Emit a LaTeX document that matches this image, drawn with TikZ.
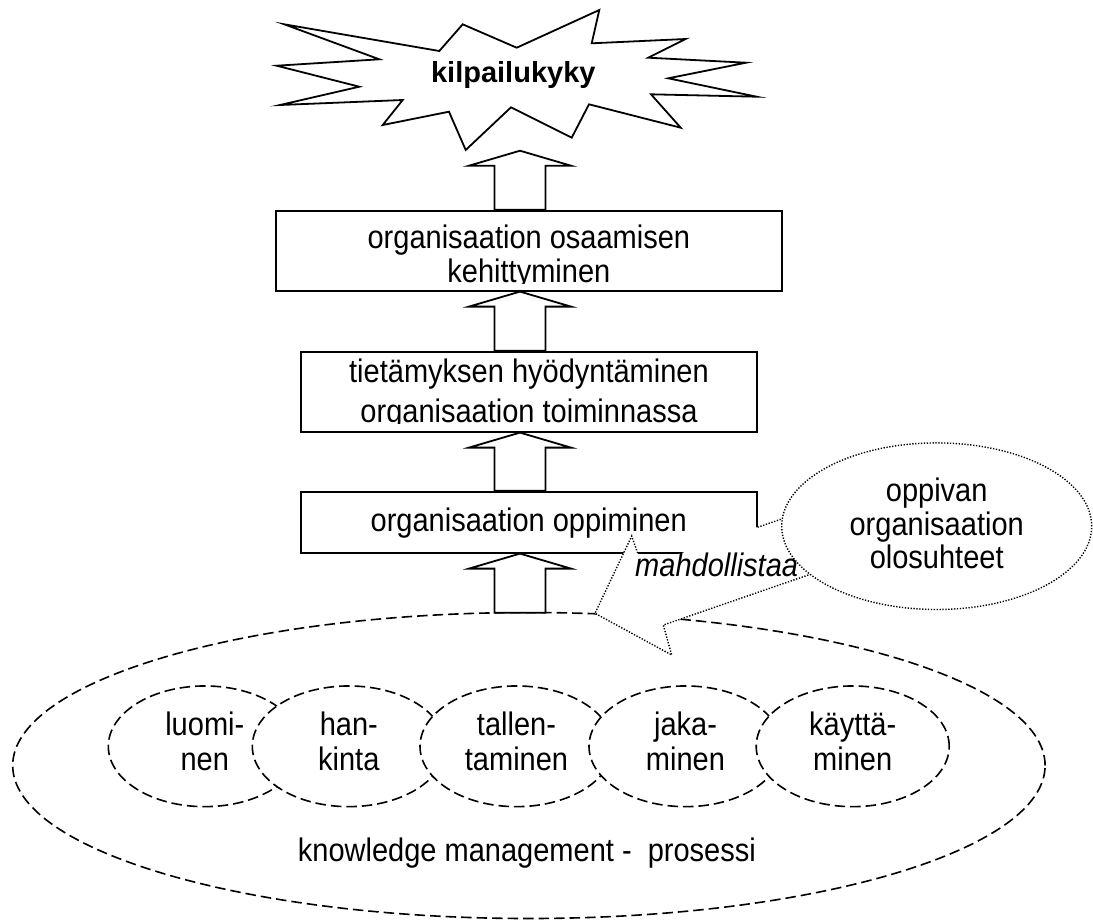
\documentclass[tikz,border=0pt]{standalone}
\usepackage{fontspec}
\setmainfont{Liberation Sans}
\newfontfamily\tallsans{Liberation Sans}[FakeStretch=0.89]
\usetikzlibrary{calc,shapes.geometric}

% upward block arrow: #1 = middle of the shaft end, #2 = tip
\newcommand\liftarrow[2]{%
  \draw[blockup] ($(#1)+(-25.5,0)$) -- ($(#2)+(-25.5,15)$) -- ($(#2)+(-51,15)$) -- (#2)
    -- ($(#2)+(51,15)$) -- ($(#2)+(25.5,15)$) -- ($(#1)+(25.5,0)$) -- cycle;}

\begin{document}
\begin{tikzpicture}[x=1pt,y=-1pt,
  txt/.style={font=\tallsans\fontsize{32.6}{33.3}\selectfont, inner sep=0pt},
  solidline/.style={draw=black, line width=1.8pt, line join=miter, miter limit=30},
  boxstyle/.style={solidline, fill=white, rectangle, inner sep=0pt},
  blockup/.style={solidline, fill=white},
  kmdash/.style={draw=black, line width=1.6pt, dash pattern=on 10.5pt off 5pt},
  stage/.style={kmdash, fill=white, ellipse, minimum width=193pt, minimum height=120.7pt,
    inner sep=0pt, font=\tallsans\fontsize{32.6}{35}\selectfont},
  dotline/.style={draw=black, line width=1.4pt, dash pattern=on 1.3pt off 1.6pt},
]
\useasboundingbox (0,0) rectangle (1093,922);

% knowledge management process
\node[kmdash, ellipse, minimum width=1032.4pt, minimum height=306pt, inner sep=0pt] (km) at (528.9,765.5) {};
\node[txt, anchor=base west] (kmtext) at (297.7,861.7) {knowledge management -\ \ prosessi};

\node[stage] (s1) at (204.8,746.3) {\begin{tabular}{@{}c@{}}luomi-\\nen\end{tabular}};
\node[stage] (s2) at (348.8,746.3) {\begin{tabular}{@{}c@{}}han-\\kinta\end{tabular}};
\node[stage] (s3) at (516.5,746.3) {\begin{tabular}{@{}c@{}}tallen-\\taminen\end{tabular}};
\node[stage] (s4) at (685.5,746.3) {\begin{tabular}{@{}c@{}}jaka-\\minen\end{tabular}};
\node[stage] (s5) at (852.7,746.3) {\begin{tabular}{@{}c@{}}käyttä-\\minen\end{tabular}};

% competitiveness burst
\draw[solidline, fill=white] (284.3,24.3) -- (439.3,51) -- (462.7,24.3) -- (516.7,47.7)
  -- (599.3,10) -- (591.7,43.3) -- (685.7,39) -- (648.3,57.7) -- (746,62.7)
  -- (668.3,78.3) -- (756.7,96.7) -- (651,94.3) -- (680.7,127.7) -- (589,104.3)
  -- (571.7,137.7) -- (511,107.3) -- (465.7,150) -- (449,111.7) -- (382.7,125)
  -- (402.7,100) -- (280,105) -- (359.3,86.7) -- (276.7,65.7) -- (379.3,59.3) -- cycle;
\node[inner sep=0pt, anchor=base, font=\fontsize{29}{33.3}\selectfont\bfseries] (kilp) at (513.3,82.7) {kilpailukyky};

% boxes
\node[boxstyle, minimum width=505.7pt, minimum height=80pt] (box1) at (528.9,250.7) {};
\node[boxstyle, minimum width=456.6pt, minimum height=80pt] (box2) at (529,391.7) {};
\node[boxstyle, minimum width=456pt, minimum height=61pt, txt, text height=22pt, text depth=3pt]
  (box3) at (528.7,522.2) {organisaation oppiminen};

\begin{scope}
  \clip (278,212) rectangle (780,283);
  \node[txt, anchor=base] (box1text) at (528.9,248.5)
    {\begin{tabular}[t]{@{}c@{}}organisaation osaamisen\\kehittyminen\end{tabular}};
\end{scope}
\begin{scope}
  \clip (302,353) rectangle (756,423);
  \node[txt, anchor=base] (box2text) at (529,382)
    {\begin{tabular}[t]{@{}c@{}}tietämyksen hyödyntäminen\\[6.4pt]organisaation toiminnassa\end{tabular}};
\end{scope}

% upward arrows
\coordinate (tipA) at (520,150.7);
\coordinate (baseA) at (tipA |- box1.north);
\coordinate (tipB) at (tipA |- box1.south);
\coordinate (baseB) at (tipA |- box2.north);
\coordinate (tipC) at (tipA |- box2.south);
\coordinate (baseC) at (tipA |- box3.north);
\coordinate (tipD) at (tipA |- box3.south);
\coordinate (baseD) at (520,612.7);
\liftarrow{baseA}{tipA}
\liftarrow{baseB}{tipB}
\liftarrow{baseC}{tipC}
\liftarrow{baseD}{tipD}

% enabling arrow from the conditions to the process
\coordinate (enTip) at (595,613.3);
\coordinate (enUpBarb) at (631.7,536);
\coordinate (enUpNeck) at (642.2,566.6);
\coordinate (enUpEnd) at (850,495.3);
\coordinate (enLoEnd) at (870,553.7);
\coordinate (enLoNeck) at (663.3,625);
\coordinate (enLoBarb) at (671.7,655);
\coordinate (enUpNeckSeen) at (637.6,553);
\coordinate (enUpShaftSeen) at (box3.east |- 0,527.3);
\fill[white] (enTip) -- (enUpBarb) -- (enUpNeck) -- (enUpEnd) -- (enLoEnd)
  -- (enLoNeck) -- (enLoBarb) -- cycle;
\draw[dotline] (enUpNeckSeen) -- (enUpBarb) -- (enTip) -- (enLoBarb) -- (enLoNeck) -- (enLoEnd);
\draw[dotline] (enUpShaftSeen) -- (enUpEnd);
\node[inner sep=0pt, anchor=base west, font=\tallsans\fontsize{32.6}{33.3}\selectfont\itshape] (mah) at (635,576.7) {mahdollistaa};

\node[dotline, fill=white, ellipse, minimum width=310pt, minimum height=166.6pt, inner sep=0pt]
  (opp) at (936.7,526.2) {};
\node[txt, anchor=base] (opptext) at (936.7,501.7)
  {\begin{tabular}[t]{@{}c@{}}oppivan\\organisaation\\olosuhteet\end{tabular}};

\end{tikzpicture}
\end{document}
